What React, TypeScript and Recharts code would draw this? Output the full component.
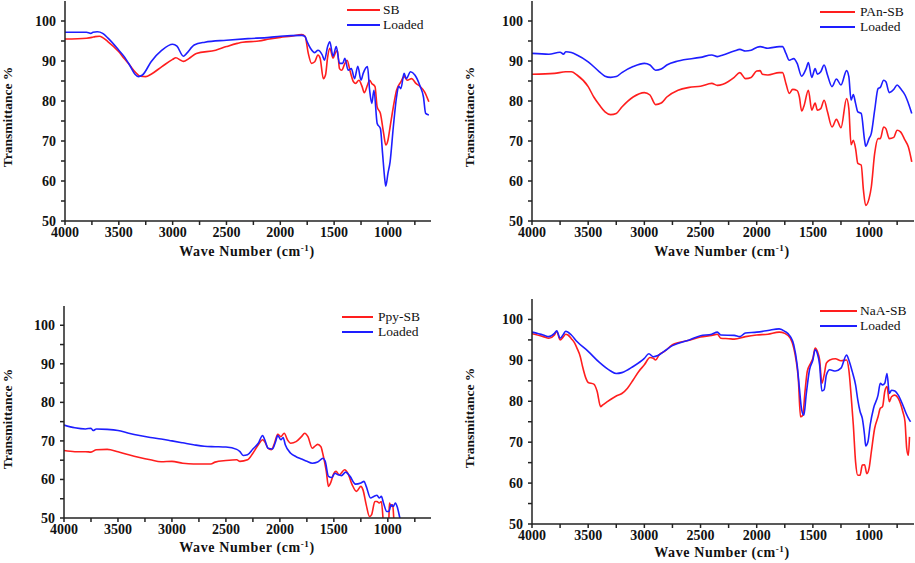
import React from 'react';
import { LineChart, Line, XAxis, YAxis } from 'recharts';

type Pt = [number, number];

// Panel 1: SB
const SB: Pt[] = [[4000,95.5],[3800,95.7],[3750,95.9],[3720,96.1],[3680,96.2],[3600,94.8],[3500,92.3],[3450,90.6],[3400,89],[3350,87.3],[3300,86.2],[3250,86.1],[3200,86.7],[3100,88.6],[3000,90.4],[2970,90.8],[2920,90.1],[2900,89.9],[2850,90.6],[2780,91.9],[2600,92.7],[2500,93.6],[2400,94.4],[2350,94.7],[2200,95.0],[2100,95.5],[2000,95.9],[1900,96.2],[1800,96.6],[1770,96.2],[1740,91.9],[1710,89.4],[1680,89.8],[1650,91.5],[1630,90.7],[1600,85.6],[1580,86.5],[1560,91],[1540,93.2],[1510,90.7],[1490,91.9],[1470,92.7],[1450,88.1],[1430,87.7],[1400,89.4],[1380,90.2],[1350,87.3],[1320,84.8],[1300,84.4],[1270,85.2],[1240,83.6],[1220,82.1],[1190,84],[1170,85.2],[1150,84.4],[1120,83.6],[1100,78.5],[1070,76.9],[1040,71.9],[1020,69],[1000,70.2],[980,73.5],[950,78.5],[920,82.7],[880,84.8],[850,86.1],[820,85.2],[780,85.6],[740,84.4],[700,83.6],[660,82.3],[620,79.8]];
const SB_LOADED: Pt[] = [[4000,97.2],[3800,97.2],[3760,96.9],[3740,97.2],[3700,97.3],[3650,96.9],[3600,95.7],[3500,92.7],[3450,91.1],[3400,89],[3350,86.7],[3320,86.1],[3280,86.5],[3200,89.8],[3100,92.7],[3000,94.2],[2960,93.7],[2900,91.2],[2870,91.9],[2800,94],[2700,94.7],[2500,95.2],[2300,95.6],[2100,95.9],[2000,96.2],[1800,96.4],[1770,96.1],[1750,94.8],[1720,93.2],[1680,92.1],[1650,92.7],[1610,91.5],[1590,90.2],[1560,93.6],[1540,94.8],[1510,91.2],[1480,93.6],[1450,89.4],[1420,89.4],[1400,90.7],[1370,87.7],[1340,88.1],[1310,85.6],[1280,88.7],[1250,85.2],[1230,86.9],[1190,88.6],[1170,82.7],[1150,79.4],[1130,82.7],[1100,74.4],[1070,73.1],[1050,66.9],[1030,60.6],[1020,58.7],[1000,61.9],[980,64.8],[950,73.5],[920,81],[900,83.7],[880,83.1],[850,86.9],[830,85.6],[790,87.3],[750,86.5],[700,83.6],[670,81],[650,76.9],[620,76.5]];

// Panel 2: PAn-SB
const PAN: Pt[] = [[4000,86.7],[3800,86.9],[3700,87.3],[3650,87.3],[3600,86.5],[3500,83.6],[3450,81],[3400,79],[3350,77.3],[3300,76.6],[3250,76.9],[3200,78.5],[3100,81],[3000,82.1],[2950,81.5],[2900,79.1],[2850,79.5],[2800,81],[2700,82.7],[2600,83.4],[2500,83.7],[2400,84.4],[2350,83.9],[2300,84.2],[2200,85.9],[2150,87.1],[2100,85.6],[2050,85.9],[2000,87.5],[1970,87.6],[1950,86.7],[1900,86.5],[1800,87.1],[1770,87.1],[1740,84.4],[1710,81.9],[1680,82.9],[1640,82.6],[1620,81],[1600,77.5],[1580,78.7],[1540,82.7],[1510,77.7],[1480,79.5],[1460,77.7],[1430,78.1],[1400,80.2],[1370,77.3],[1330,73.5],[1290,75.4],[1250,73.3],[1200,80.6],[1180,78.1],[1160,69.1],[1140,70.2],[1120,68.1],[1100,64.4],[1070,64],[1050,57.7],[1030,53.9],[1000,55.6],[980,58.5],[950,66.9],[920,70.6],[900,70.6],[870,73.5],[850,73.1],[820,70.6],[780,70.9],[750,72.7],[720,72.3],[680,70.2],[650,68.5],[620,64.8]];
const PAN_LOADED: Pt[] = [[4000,91.9],[3850,91.7],[3750,92.2],[3720,91.7],[3700,92.3],[3650,92.1],[3600,91.5],[3500,89.8],[3400,87.3],[3350,86.2],[3300,85.9],[3250,86.1],[3200,87.1],[3100,88.6],[3000,89.4],[2950,89],[2900,87.7],[2850,88],[2800,89],[2700,90],[2500,90.9],[2400,91.5],[2350,91.1],[2300,91.5],[2200,92.5],[2150,92.9],[2100,92.5],[2050,92.7],[2000,93.4],[1970,93.6],[1900,93.2],[1800,93.6],[1770,93.6],[1740,91.9],[1710,90.2],[1670,90.6],[1640,89.4],[1600,86.2],[1560,88.1],[1540,89.6],[1510,85.9],[1480,88.1],[1460,86.7],[1430,87.3],[1400,89],[1370,86.5],[1330,83.6],[1290,85.5],[1250,84],[1200,87.6],[1180,86.1],[1160,80.2],[1140,81.6],[1120,79.4],[1100,77.3],[1070,76.9],[1040,70.2],[1030,68.7],[1000,70.6],[980,71.9],[950,77.7],[920,83.1],[900,83.4],[870,85.2],[850,84.8],[820,82.1],[780,82.9],[750,84],[720,83.1],[680,81.5],[660,80.2],[620,76.9]];

// Panel 3: Ppy-SB
const PPY: Pt[] = [[4000,67.5],[3900,67.2],[3800,67.2],[3750,67.1],[3700,67.7],[3600,67.8],[3500,67.2],[3400,66.4],[3300,65.7],[3200,65.1],[3100,64.6],[3000,64.7],[2900,64.2],[2800,64],[2700,64],[2640,64],[2600,64.5],[2500,64.9],[2400,65.1],[2370,64.7],[2300,65.1],[2250,66.8],[2200,69],[2160,70.3],[2140,69.8],[2110,68.1],[2080,67.7],[2050,69.4],[2020,71.7],[1990,71.1],[1960,72],[1930,70.3],[1900,69.4],[1850,69.8],[1800,71.1],[1770,72],[1740,71.1],[1700,68.1],[1680,68.5],[1650,69.1],[1620,68.5],[1600,66.4],[1570,62.1],[1550,58.2],[1530,59.1],[1500,61.6],[1480,62.1],[1450,61.2],[1400,62.5],[1370,61.6],[1330,58.6],[1290,56.9],[1250,58.2],[1230,57.3],[1200,53.4],[1170,50.4],[1150,50.9],[1120,54.3],[1100,54.3],[1080,53.9],[1060,54.3],[1045,50],[1035,45],[1000,45],[990,50],[985,53.9],[970,53],[955,53.4],[945,50],[935,45]];
const PPY_LOADED: Pt[] = [[4000,74.1],[3900,73.4],[3800,73.1],[3750,73.3],[3730,72.7],[3700,73.1],[3600,73],[3500,72.7],[3400,72],[3300,71.4],[3200,70.9],[3100,70.5],[3000,70],[2900,69.5],[2800,69],[2700,68.6],[2600,68.5],[2500,68.4],[2400,67.8],[2370,67.2],[2340,66.2],[2300,66.4],[2250,67.9],[2200,69.4],[2160,71.4],[2140,70.3],[2110,68.1],[2070,67.9],[2040,69.8],[2020,71.4],[1990,70.3],[1970,70.9],[1950,69],[1900,66.8],[1850,65.9],[1800,65.3],[1750,64.7],[1700,64.2],[1650,64.5],[1600,65.5],[1580,64.7],[1550,60.8],[1520,60.5],[1490,61.6],[1460,61.2],[1430,61],[1390,61.9],[1350,60.8],[1300,58.8],[1250,59.1],[1220,59.5],[1200,58.2],[1160,55.2],[1130,55.6],[1100,55.9],[1080,55.2],[1060,55.6],[1040,53.9],[1010,51.7],[990,51.7],[970,53.4],[950,53],[930,53.9],[910,52.6],[890,50.2],[880,49],[870,47]];

// Panel 4: NaA-SB
const NAA: Pt[] = [[4000,96.5],[3900,95.8],[3850,95.4],[3800,96.2],[3780,97.1],[3750,95],[3720,95.8],[3700,96.4],[3680,96.2],[3650,95.3],[3620,94.2],[3600,93],[3570,90.9],[3550,88.5],[3520,85.6],[3500,84.6],[3450,84.2],[3420,82.4],[3390,78.7],[3370,79.1],[3330,79.9],[3250,81.3],[3200,81.9],[3150,83.2],[3100,85.2],[3050,87.3],[3000,88.9],[2950,90.7],[2920,90.5],[2900,90.1],[2870,91.3],[2820,92.2],[2750,93.8],[2600,94.9],[2500,95.7],[2400,96.1],[2350,96.4],[2320,95.4],[2250,95.3],[2200,95.2],[2100,95.8],[2000,96.2],[1900,96.4],[1800,96.9],[1750,96.6],[1700,95.4],[1670,93],[1650,90.1],[1630,85.6],[1610,76.2],[1590,76.6],[1570,82.4],[1550,87.3],[1520,89.3],[1500,90.5],[1480,93],[1460,92.2],[1440,90.1],[1420,84.4],[1400,86.4],[1380,89.3],[1350,90.1],[1300,90.4],[1250,89.9],[1200,90.1],[1180,87.7],[1160,81.5],[1140,74.2],[1120,65.2],[1100,61.9],[1080,61.9],[1060,64.4],[1040,64.5],[1020,62.3],[1000,63.6],[980,67.6],[950,73.4],[920,76.2],[900,78.3],[880,78.7],[860,82.4],[840,83.6],[820,79.9],[800,81.1],[770,81.5],[740,80.7],[700,77.5],[680,75],[665,68.5],[650,66.8],[640,71.3]];
const NAA_LOADED: Pt[] = [[4000,96.9],[3900,96.2],[3850,95.8],[3800,96.6],[3780,97.2],[3750,95.4],[3720,96.4],[3700,97.1],[3650,96.2],[3600,94.6],[3500,92.2],[3400,89.5],[3300,87.4],[3250,86.8],[3200,87],[3100,88.5],[3000,90.5],[2960,91.6],[2920,90.9],[2880,91.2],[2820,92.3],[2750,93.6],[2600,95],[2500,96],[2400,96.4],[2350,96.9],[2320,96.2],[2200,96.1],[2150,95.8],[2100,96.7],[2000,96.9],[1900,97.3],[1800,97.7],[1750,97.1],[1700,95.8],[1670,93.8],[1640,88.9],[1620,83.2],[1600,77.9],[1580,76.6],[1560,81.5],[1530,87.7],[1500,90.1],[1480,92.6],[1460,91.7],[1440,88.9],[1420,82.5],[1400,82.8],[1380,86.4],[1350,87.7],[1300,87.4],[1250,88.1],[1200,91.3],[1180,90.1],[1150,87.3],[1120,84],[1100,80.3],[1080,77.5],[1060,75.8],[1040,71.7],[1030,69.1],[1010,70.1],[990,74.2],[960,78.3],[920,81.5],[900,84.4],[880,84],[860,84.4],[840,86.8],[820,81.9],[800,82.7],[770,82.5],[740,81.5],[700,79.1],[670,77],[640,75.4],[630,75]];

const X_TICKS = [4000, 3750, 3500, 3250, 3000, 2750, 2500, 2250, 2000, 1750, 1500, 1250, 1000, 750];
const Y_TICKS = [50, 55, 60, 65, 70, 75, 80, 85, 90, 95, 100];

const RED = '#ff1e1e';
const BLUE = '#1e1eff';
const SERIF = '"Liberation Serif", "Times New Roman", serif';

const toRows = (pts: Pt[]) => pts.map(([w, t]) => ({ w, t }));

type PanelProps = {
  left: number; top: number; width: number; height: number;
  margin: { top: number; right: number; bottom: number; left: number };
  red: Pt[]; blue: Pt[]; redName: string;
  xLabel: [number, number]; yLabel: [number, number];
  legend: { x: number; y: number; len: number; gap: number; dy: number };
};

const tickStyle = { fill: '#111', fontFamily: SERIF, fontWeight: 700, fontSize: 14 };

function Panel(p: PanelProps) {
  const axisLine = { stroke: '#222', strokeWidth: 1.5 };
  return (
    <>
      <div style={{ position: 'absolute', left: p.left, top: p.top }}>
        <LineChart width={p.width} height={p.height} margin={p.margin}>
          <XAxis
            dataKey="w" type="number" domain={[600, 4000]} reversed allowDataOverflow
            ticks={X_TICKS} interval={0} tickSize={4} tickMargin={2}
            tickFormatter={(v: number) => (v % 500 === 0 ? String(v) : '')}
            tick={tickStyle} axisLine={axisLine} tickLine={axisLine} height={30}
          />
          <XAxis xAxisId="top" orientation="top" dataKey="w" type="number" domain={[600, 4000]} reversed
            height={0} tick={false} tickLine={false} axisLine={axisLine} />
          <YAxis
            type="number" domain={[50, 105]} allowDataOverflow ticks={Y_TICKS} interval={0}
            tickSize={4} tickMargin={5}
            tickFormatter={(v: number) => (v % 10 === 0 ? String(v) : '')}
            tick={tickStyle} axisLine={axisLine} tickLine={axisLine} width={40}
          />
          <YAxis yAxisId="right" orientation="right" type="number" domain={[50, 105]}
            width={0} tick={false} tickLine={false} axisLine={axisLine} />
          <Line data={toRows(p.red)} dataKey="t" stroke={RED} strokeWidth={1.6} dot={false}
            type="monotone" isAnimationActive={false} />
          <Line data={toRows(p.blue)} dataKey="t" stroke={BLUE} strokeWidth={1.6} dot={false}
            type="monotone" isAnimationActive={false} />
        </LineChart>
      </div>
      <div style={{
        position: 'absolute', left: p.xLabel[0] - 150, top: p.xLabel[1] - 10, width: 300,
        textAlign: 'center', fontFamily: SERIF, fontWeight: 700, fontSize: 14, lineHeight: '20px',
        letterSpacing: 0.6, color: '#111', whiteSpace: 'nowrap',
      }}>
        Wave Number (cm<sup style={{ fontSize: 9, verticalAlign: 'top', lineHeight: '12px' }}>-1</sup>)
      </div>
      <div style={{
        position: 'absolute', left: p.yLabel[0] - 60, top: p.yLabel[1] - 9, width: 120, height: 18,
        textAlign: 'center', fontFamily: SERIF, fontWeight: 700, fontSize: 13.5, lineHeight: '18px',
        color: '#111', whiteSpace: 'nowrap', transform: 'rotate(-90deg)',
      }}>
        Transmittance %
      </div>
      {[{ name: p.redName, color: RED }, { name: 'Loaded', color: BLUE }].map((e, i) => (
        <div key={e.name} style={{
          position: 'absolute', left: p.legend.x, top: p.legend.y + i * p.legend.dy - 6, height: 12,
          display: 'flex', alignItems: 'center', fontFamily: SERIF, fontSize: 13.5, lineHeight: '12px',
          color: '#111', whiteSpace: 'nowrap',
        }}>
          <span style={{ display: 'inline-block', width: p.legend.len, height: 2, background: e.color, marginRight: p.legend.gap }} />
          <span>{e.name}</span>
        </div>
      ))}
    </>
  );
}

export default function App() {
  return (
    <div style={{ position: 'absolute', left: 0, top: 0, width: 915, height: 563, background: '#fff', overflow: 'hidden' }}>
      <Panel left={0} top={0} width={440} height={262} margin={{ top: 1, right: 9, bottom: 11, left: 25 }}
        red={SB} blue={SB_LOADED} redName="SB" xLabel={[247, 252]} yLabel={[8, 117]}
        legend={{ x: 347, y: 10, len: 33, gap: 3, dy: 15 }} />
      <Panel left={455} top={0} width={460} height={262} margin={{ top: 1, right: 1, bottom: 11, left: 37 }}
        red={PAN} blue={PAN_LOADED} redName="PAn-SB" xLabel={[722, 252]} yLabel={[470, 117]}
        legend={{ x: 820, y: 12, len: 35, gap: 5, dy: 15 }} />
      <Panel left={0} top={285} width={440} height={278} margin={{ top: 21, right: 9, bottom: 15, left: 24 }}
        red={PPY} blue={PPY_LOADED} redName="Ppy-SB" xLabel={[247, 548]} yLabel={[8, 419]}
        legend={{ x: 342, y: 317, len: 31, gap: 5, dy: 15 }} />
      <Panel left={455} top={285} width={460} height={278} margin={{ top: 14, right: 1, bottom: 9, left: 37 }}
        red={NAA} blue={NAA_LOADED} redName="NaA-SB" xLabel={[722, 553]} yLabel={[470, 418]}
        legend={{ x: 820, y: 311, len: 37, gap: 3, dy: 15 }} />
    </div>
  );
}
